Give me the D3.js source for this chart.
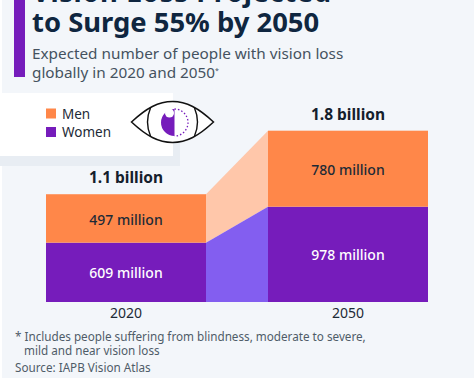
<!DOCTYPE html>
<html>
<head>
<meta charset="utf-8">
<script src="https://cdn.jsdelivr.net/npm/d3@7"></script>
<style>
  html, body { margin: 0; padding: 0; background: #fff; }
  text { font-family: "Noto Sans", "Open Sans", sans-serif; }
</style>
</head>
<body>
<svg id="chart" width="474" height="379" style="display:block"></svg>
<script>
// data
var years = ["2020", "2050"];
var men = [497, 780];
var women = [609, 978];
var totals = ["1.1 billion", "1.8 billion"];
var legendNames = ["Men", "Women"];
var titleLines = ["Vision Loss Projected", "to Surge 55% by 2050"];
var subtitleLines = ["Expected number of people with vision loss", "globally in 2020 and 2050"];
var noteLines = ["* Includes people suffering from blindness, moderate to severe,", "mild and near vision loss", "Source: IAPB Vision Atlas"];

var colorMen = "#ff8749", colorWomen = "#761cbb";
var colorMenLink = "#ffc7aa", colorWomenLink = "#835ef0";

var svg = d3.select("#chart");

// page background
svg.append("rect").attr("x", 2).attr("y", 0).attr("width", 472).attr("height", 378).attr("fill", "#f3f6fa");

// scales: bars 160px wide, 62px gap
var xScale = d3.scaleBand().domain(years).range([46, 428]).paddingInner(62 / 222);
var yScale = d3.scaleLinear().domain([0, 978]).range([302, 206.7]);

// header
svg.append("rect").attr("x", 14).attr("y", 0).attr("width", 11).attr("height", 77).attr("fill", colorWomen);
svg.selectAll(".title").data(titleLines).enter().append("text")
  .attr("class", "title")
  .attr("x", 32)
  .attr("y", function(d, i) { return 2 + i * 29.5; })
  .attr("font-size", 27.4)
  .attr("font-weight", 700)
  .attr("letter-spacing", function(d, i) { return i == 0 ? 0.6 : 0; }) // top line is cut off, only its width shows
  .attr("fill", "#0f2640")
  .text(function(d) { return d; });
svg.selectAll(".subtitle").data(subtitleLines).enter().append("text")
  .attr("class", "subtitle")
  .attr("x", 32)
  .attr("y", function(d, i) { return 59 + i * 18.5; })
  .attr("font-size", 15.3)
  .attr("fill", "#45525f")
  .text(function(d) { return d; });
svg.append("text").attr("x", 215).attr("y", 73).attr("font-size", 7).attr("fill", "#45525f").text("*");

// legend box with its soft shadow
svg.append("rect").attr("x", 0).attr("y", 100).attr("width", 180).attr("height", 66).attr("fill", "#e8edf3");
svg.append("rect").attr("x", 0).attr("y", 93).attr("width", 173).attr("height", 63).attr("fill", "#fff");
var legendColors = d3.scaleOrdinal().domain(legendNames).range([colorMen, colorWomen]);
svg.selectAll(".legend-swatch").data(legendNames).enter().append("rect")
  .attr("class", "legend-swatch")
  .attr("x", 46)
  .attr("y", function(d, i) { return 108.5 + i * 18.5; })
  .attr("width", 10).attr("height", 10)
  .attr("fill", function(d) { return legendColors(d); });
svg.selectAll(".legend-label").data(legendNames).enter().append("text")
  .attr("class", "legend-label")
  .attr("x", 62)
  .attr("y", function(d, i) { return 118.5 + i * 18.5; })
  .attr("font-size", 13.5)
  .attr("fill", "#1d2a36")
  .text(function(d) { return d; });

// eye icon
var eye = svg.append("g").attr("transform", "translate(172.5,122)");
eye.append("path").attr("d", "M-41,0 C-26,-14 -14,-20.5 0,-20.5 C14,-20.5 26,-14 41,0 C26,14 14,20.5 0,20.5 C-14,20.5 -26,14 -41,0Z")
  .attr("fill", "#fff").attr("stroke", "#111").attr("stroke-width", 1.5);
eye.append("path").attr("d", "M-22,-14 Q-28,0 -22,14").attr("fill", "none").attr("stroke", "#111").attr("stroke-width", 1.4);
eye.append("path").attr("d", "M22,-14 Q28,0 22,14").attr("fill", "none").attr("stroke", "#111").attr("stroke-width", 1.4);
eye.append("path").attr("d", "M2,-13 A13.5,13.5 0 1 0 2,14 Z").attr("fill", colorWomen);
eye.append("circle").attr("cx", -3).attr("cy", -9).attr("r", 4.5).attr("fill", "#fff");
eye.append("path").attr("d", "M2,-13 A13.5,13.5 0 0 1 2,14").attr("fill", "none")
  .attr("stroke", colorWomen).attr("stroke-width", 1.3).attr("stroke-dasharray", "1.5 2");

// connecting bands between the two bars
var left = xScale(years[0]) + xScale.bandwidth(), right = xScale(years[1]);
var band = d3.area().x(function(d) { return d.x; }).y0(function(d) { return d.y0; }).y1(function(d) { return d.y1; });
svg.append("path").attr("fill", colorMenLink).attr("d", band([
  { x: left, y0: yScale(women[0]), y1: yScale(women[0] + men[0]) },
  { x: right, y0: yScale(women[1]), y1: yScale(women[1] + men[1]) }
]));
svg.append("path").attr("fill", colorWomenLink).attr("d", band([
  { x: left, y0: yScale(0), y1: yScale(women[0]) },
  { x: right, y0: yScale(0), y1: yScale(women[1]) }
]));

// stacked bars
years.forEach(function(year, i) {
  var x = xScale(year), w = xScale.bandwidth(), cx = x + w / 2;
  svg.append("rect").attr("x", x).attr("y", yScale(women[i])).attr("width", w)
    .attr("height", yScale(0) - yScale(women[i])).attr("fill", colorWomen);
  svg.append("rect").attr("x", x).attr("y", yScale(women[i] + men[i])).attr("width", w)
    .attr("height", yScale(women[i]) - yScale(women[i] + men[i])).attr("fill", colorMen);
  svg.append("text").attr("x", cx).attr("y", yScale(women[i] / 2) + 5.5)
    .attr("text-anchor", "middle").attr("font-size", 14).attr("font-weight", 500).attr("fill", "#fff")
    .text(women[i] + " million");
  svg.append("text").attr("x", cx).attr("y", yScale(women[i] + men[i] / 2) + 6.5)
    .attr("text-anchor", "middle").attr("font-size", 14).attr("font-weight", 500).attr("fill", "#1d2a36")
    .text(men[i] + " million");
  svg.append("text").attr("x", cx).attr("y", yScale(women[i] + men[i]) - 11)
    .attr("text-anchor", "middle").attr("font-size", 15.5).attr("font-weight", 700).attr("fill", "#14202c")
    .text(totals[i]);
});

// x axis, labels only
var xAxis = svg.append("g").attr("transform", "translate(0,302)").call(d3.axisBottom(xScale).tickSize(0).tickPadding(6));
xAxis.select(".domain").remove();
xAxis.selectAll("text").attr("font-size", 14).attr("font-family", '"Noto Sans", sans-serif').attr("fill", "#1d2a36");

// footnote and source
svg.selectAll(".note").data(noteLines).enter().append("text")
  .attr("class", "note")
  .attr("x", function(d, i) { return i == 1 ? 24 : 15; })
  .attr("y", function(d, i) { return [341, 355, 372][i]; })
  .attr("font-size", 11.7)
  .attr("fill", "#4f5c68")
  .text(function(d) { return d; });
</script>
</body>
</html>
